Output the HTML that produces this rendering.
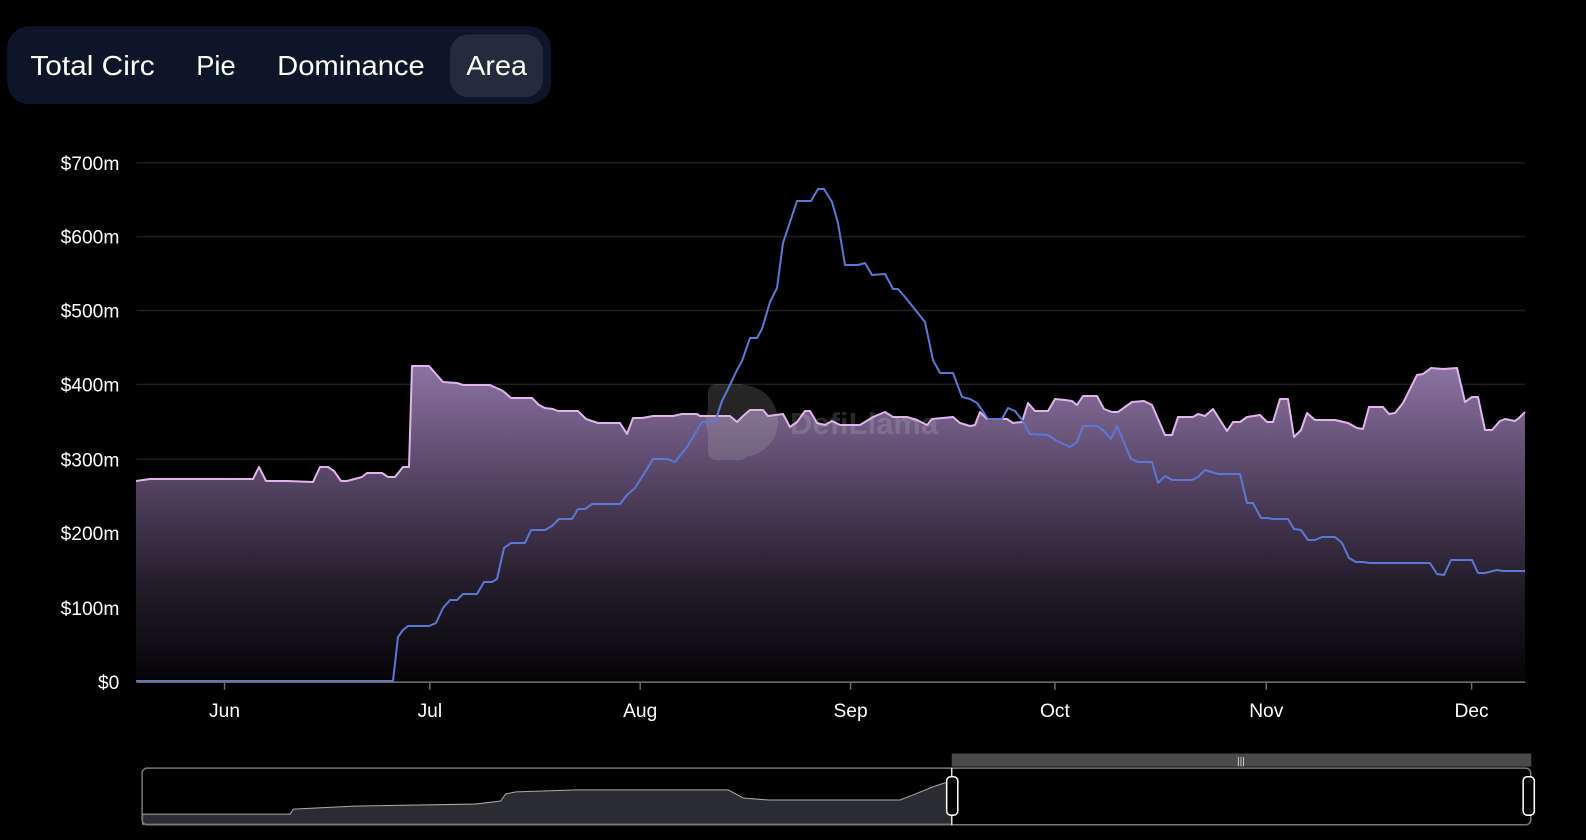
<!DOCTYPE html>
<html><head><meta charset="utf-8"><style>
html,body{margin:0;padding:0;background:#000;width:1586px;height:840px;overflow:hidden;font-family:"Liberation Sans",sans-serif}
</style></head><body>
<svg width="1586" height="840" viewBox="0 0 1586 840" xmlns="http://www.w3.org/2000/svg" style="position:absolute;left:0;top:0">
<defs>
<linearGradient id="g" x1="0" y1="364" x2="0" y2="681" gradientUnits="userSpaceOnUse">
<stop offset="0" stop-color="#8d74a3"/>
<stop offset="0.35" stop-color="#584666"/>
<stop offset="0.7" stop-color="#231c2a"/>
<stop offset="1" stop-color="#050407"/>
</linearGradient>
</defs>
<g transform="scale(1.0114)">
<!-- tab bar -->
<rect x="7" y="26" width="538" height="77" rx="22" fill="#0c1628"/>
<rect x="445" y="34" width="92" height="62" rx="18" fill="#222c3c"/>
<g fill="#fff" font-size="27" font-family="Liberation Sans, sans-serif">
<text x="30" y="74" textLength="123" lengthAdjust="spacingAndGlyphs">Total Circ</text>
<text x="194" y="74" textLength="39" lengthAdjust="spacingAndGlyphs">Pie</text>
<text x="274" y="74" textLength="146" lengthAdjust="spacingAndGlyphs">Dominance</text>
<text x="461" y="74" textLength="60" lengthAdjust="spacingAndGlyphs">Area</text>
</g>
<!-- grid -->
<g stroke="#1e1e1e" stroke-width="1.5">
<line x1="135" x2="1508" y1="161" y2="161"/>
<line x1="135" x2="1508" y1="234" y2="234"/>
<line x1="135" x2="1508" y1="307" y2="307"/>
<line x1="135" x2="1508" y1="380" y2="380"/>
<line x1="135" x2="1508" y1="454" y2="454"/>
<line x1="135" x2="1508" y1="527" y2="527"/>
<line x1="135" x2="1508" y1="601" y2="601"/>
</g>
<g fill="#fff" font-size="19" text-anchor="end">
<text x="118" y="168">$700m</text>
<text x="118" y="241">$600m</text>
<text x="118" y="314">$500m</text>
<text x="118" y="387">$400m</text>
<text x="118" y="461">$300m</text>
<text x="118" y="534">$200m</text>
<text x="118" y="608">$100m</text>
<text x="118" y="681">$0</text>
</g>
</g>
<!-- area -->
<path fill="url(#g)" d="M136,681 L136,481 L150,479 L253,479 L259,467 L266,481 L287,481 L313,482 L320,467 L328,467 L334,471 L341,481 L347,481 L362,477 L367,473 L382,473 L388,477 L395,477 L403,467 L409,467 L412,366 L429,366 L443,382 L457,383 L463,385 L490,385 L503,391 L511,398 L532,398 L539,405 L545,408 L553,409 L558,411 L578,411 L586,419 L598,423 L620,423 L627,434 L633,418 L642,418 L653,416 L673,416 L682,414 L697,414 L700,416 L730,416 L737,422 L743,416 L750,410 L763,410 L768,416 L783,414 L790,427 L797,422 L805,411 L810,411 L817,423 L825,425 L832,421 L840,425 L860,425 L873,417 L885,412 L893,417 L907,417 L917,420 L927,425 L932,419 L953,417 L960,423 L970,426 L975,425 L980,412 L987,419 L1007,419 L1013,423 L1022,422 L1028,403 L1035,411 L1048,411 L1055,399 L1065,400 L1072,401 L1077,405 L1083,396 L1097,396 L1104,409 L1112,412 L1118,412 L1125,407 L1132,402 L1144,401 L1152,405 L1165,435 L1172,435 L1178,417 L1193,417 L1198,414 L1205,416 L1213,409 L1227,431 L1233,422 L1240,422 L1247,417 L1260,415 L1267,422 L1273,422 L1280,399 L1288,399 L1294,437 L1301,430 L1307,413 L1315,420 L1335,420 L1348,423 L1357,428 L1363,429 L1369,407 L1383,407 L1389,414 L1395,413 L1403,403 L1417,375 L1423,374 L1431,368 L1443,369 L1457,368 L1465,402 L1472,397 L1478,397 L1485,430 L1492,430 L1500,421 L1505,419 L1515,421 L1519,418 L1525,412 L1525,681 Z"/>
<path fill="none" stroke="#e2b4ec" stroke-width="2" stroke-linejoin="round" d="M136,481 L150,479 L253,479 L259,467 L266,481 L287,481 L313,482 L320,467 L328,467 L334,471 L341,481 L347,481 L362,477 L367,473 L382,473 L388,477 L395,477 L403,467 L409,467 L412,366 L429,366 L443,382 L457,383 L463,385 L490,385 L503,391 L511,398 L532,398 L539,405 L545,408 L553,409 L558,411 L578,411 L586,419 L598,423 L620,423 L627,434 L633,418 L642,418 L653,416 L673,416 L682,414 L697,414 L700,416 L730,416 L737,422 L743,416 L750,410 L763,410 L768,416 L783,414 L790,427 L797,422 L805,411 L810,411 L817,423 L825,425 L832,421 L840,425 L860,425 L873,417 L885,412 L893,417 L907,417 L917,420 L927,425 L932,419 L953,417 L960,423 L970,426 L975,425 L980,412 L987,419 L1007,419 L1013,423 L1022,422 L1028,403 L1035,411 L1048,411 L1055,399 L1065,400 L1072,401 L1077,405 L1083,396 L1097,396 L1104,409 L1112,412 L1118,412 L1125,407 L1132,402 L1144,401 L1152,405 L1165,435 L1172,435 L1178,417 L1193,417 L1198,414 L1205,416 L1213,409 L1227,431 L1233,422 L1240,422 L1247,417 L1260,415 L1267,422 L1273,422 L1280,399 L1288,399 L1294,437 L1301,430 L1307,413 L1315,420 L1335,420 L1348,423 L1357,428 L1363,429 L1369,407 L1383,407 L1389,414 L1395,413 L1403,403 L1417,375 L1423,374 L1431,368 L1443,369 L1457,368 L1465,402 L1472,397 L1478,397 L1485,430 L1492,430 L1500,421 L1505,419 L1515,421 L1519,418 L1525,412"/>
<!-- watermark -->
<g opacity="0.2">
<rect x="708" y="384" width="40" height="76" rx="8" fill="#bbb"/>
<circle cx="742" cy="421" r="36" fill="#bbb"/>
<text x="790" y="434" font-size="31" font-weight="bold" fill="#ccc">DefiLlama</text>
</g>
<!-- blue -->
<path fill="none" stroke="#5b78d6" stroke-width="2" stroke-linejoin="round" d="M136,681 L393,681 L398,637 L403,630 L408,626 L429,626 L436,623 L443,608 L450,600 L457,600 L463,594 L477,594 L484,582 L492,582 L497,579 L504,548 L511,543 L525,543 L531,530 L545,530 L552,526 L559,519 L572,519 L578,509 L585,509 L592,504 L620,504 L627,495 L635,488 L647,469 L653,459 L667,459 L675,462 L687,447 L702,422 L715,422 L722,401 L728,389 L737,370 L742,361 L750,338 L757,338 L762,329 L770,302 L777,288 L783,243 L797,201 L811,201 L818,189 L824,189 L832,202 L838,223 L845,265 L858,265 L865,263 L872,275 L885,274 L893,289 L898,289 L905,297 L925,322 L933,360 L940,373 L953,373 L962,397 L970,399 L977,403 L982,410 L988,419 L1002,419 L1008,408 L1015,411 L1022,420 L1030,434 L1048,435 L1057,441 L1070,447 L1077,442 L1083,426 L1097,426 L1103,430 L1111,439 L1117,426 L1131,459 L1138,462 L1152,462 L1158,483 L1165,476 L1172,480 L1192,480 L1198,477 L1205,470 L1218,474 L1240,474 L1247,503 L1253,503 L1261,518 L1267,518 L1273,519 L1288,519 L1294,529 L1301,530 L1308,540 L1315,540 L1322,537 L1335,537 L1342,543 L1349,558 L1356,562 L1363,562 L1370,563 L1430,563 L1437,574 L1444,575 L1451,560 L1472,560 L1478,573 L1485,573 L1497,570 L1503,571 L1525,571"/>
<g transform="scale(1.0114)">
<!-- x axis -->
<line x1="135" x2="1508" y1="674.5" y2="674.5" stroke="#6b6b6b" stroke-width="1.5"/>
<g stroke="#6b6b6b" stroke-width="1.5">
<line x1="222" x2="222" y1="674" y2="682"/><line x1="425" x2="425" y1="674" y2="682"/>
<line x1="633" x2="633" y1="674" y2="682"/><line x1="841" x2="841" y1="674" y2="682"/>
<line x1="1043" x2="1043" y1="674" y2="682"/><line x1="1252" x2="1252" y1="674" y2="682"/>
<line x1="1455" x2="1455" y1="674" y2="682"/>
</g>
<g fill="#fff" font-size="19" text-anchor="middle">
<text x="222" y="709">Jun</text><text x="425" y="709">Jul</text><text x="633" y="709">Aug</text>
<text x="841" y="709">Sep</text><text x="1043" y="709">Oct</text><text x="1252" y="709">Nov</text>
<text x="1455" y="709">Dec</text>
</g>
<!-- slider -->
<rect x="941" y="745" width="573" height="13" fill="#4a4a4a"/>
<text x="1227" y="756" fill="#ddd" font-size="10" text-anchor="middle">|||</text>
<path fill="#2b2c31" stroke="#aaa" stroke-width="1" d="M141,815 L141,805 L287,805 L290,800 L350,797 L470,795 L495,792 L500,785 L510,783 L570,781 L720,781 L735,789 L760,791 L890,791 L905,785 L925,777 L941,772 L941,815 Z"/>
<rect x="140.5" y="759.5" width="1373" height="56" rx="5" fill="none" stroke="#777" stroke-width="1.5"/>
<line x1="941" x2="941" y1="759" y2="816" stroke="#ddd" stroke-width="1.5"/>
<rect x="936" y="768" width="11" height="38" rx="4" fill="#000" stroke="#fff" stroke-width="1.5"/>
<rect x="1506" y="768" width="11" height="38" rx="4" fill="#000" stroke="#fff" stroke-width="1.5"/>
</g>
</svg>
</body></html>
